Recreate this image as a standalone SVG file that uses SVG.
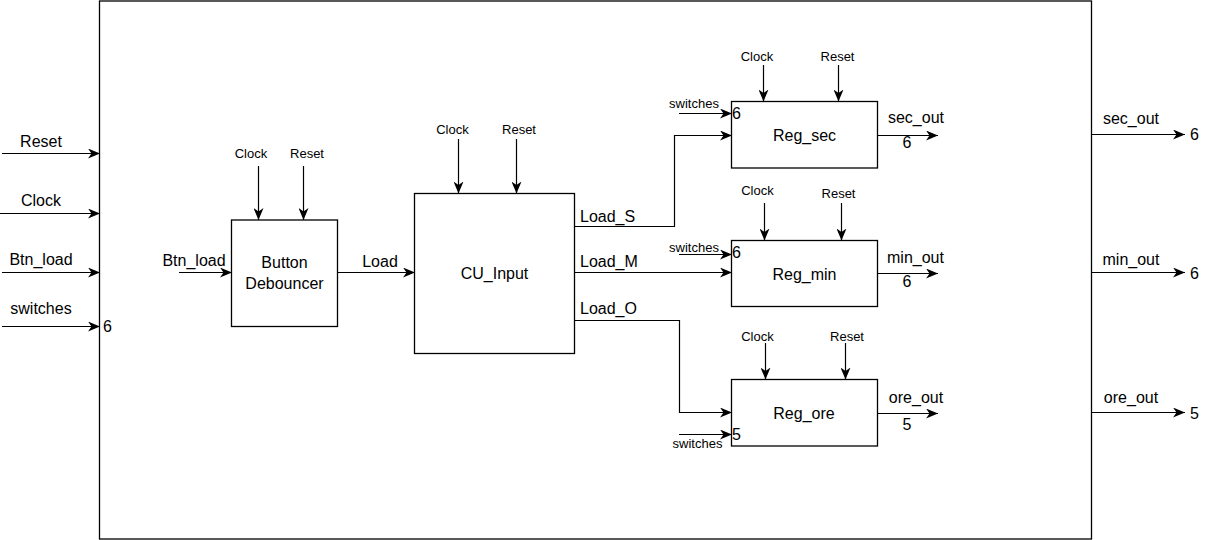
<svg xmlns="http://www.w3.org/2000/svg" width="1227" height="540" viewBox="0 0 1227 540">
<style>
.box{fill:#fff;stroke:#000;stroke-width:1.3}
.w{fill:none;stroke:#000;stroke-width:1.2}
text{font-family:"Liberation Sans",Arial,sans-serif;fill:#000}
.m{font-size:16px}
.s{font-size:13px}
.c{text-anchor:middle}
</style>
<defs>
<marker id="a" markerUnits="userSpaceOnUse" markerWidth="12" markerHeight="10" refX="12" refY="5" orient="auto" viewBox="0 0 12 10">
<path d="M0,0 L12,5 L0,10 L3.5,5 Z" fill="#000"/>
</marker>
</defs>
<rect id="top" class="box" x="99.5" y="1" width="992" height="538"/>
<g id="debouncer">
<rect class="box" x="231.5" y="220" width="106" height="106.5"/>
<text class="m c" x="284.5" y="268">Button</text>
<text class="m c" x="284.5" y="289">Debouncer</text>
</g>
<g id="cu_input">
<rect class="box" x="414.5" y="193.5" width="160" height="160"/>
<text class="m c" x="494.5" y="278.5">CU_Input</text>
</g>
<g id="reg_sec">
<rect class="box" x="731.5" y="101.5" width="146" height="66.5"/>
<text class="m c" x="804.5" y="141">Reg_sec</text>
</g>
<g id="reg_min">
<rect class="box" x="731.5" y="240.5" width="146" height="66"/>
<text class="m c" x="804.5" y="279.5">Reg_min</text>
</g>
<g id="reg_ore">
<rect class="box" x="731.5" y="379.5" width="146" height="66.5"/>
<text class="m c" x="804" y="418.5">Reg_ore</text>
</g>
<g id="connectors">
<path class="w" d="M2,153.5 H100" marker-end="url(#a)"/>
<path class="w" d="M0,213.5 H100" marker-end="url(#a)"/>
<path class="w" d="M2,272.5 H100" marker-end="url(#a)"/>
<path class="w" d="M2,326.5 H100" marker-end="url(#a)"/>
<path class="w" d="M179,272.5 H232" marker-end="url(#a)"/>
<path class="w" d="M258.5,166 V220" marker-end="url(#a)"/>
<path class="w" d="M303.5,166 V220" marker-end="url(#a)"/>
<path class="w" d="M337,272.5 H415" marker-end="url(#a)"/>
<path class="w" d="M458.5,139 V193.5" marker-end="url(#a)"/>
<path class="w" d="M516.5,139 V193.5" marker-end="url(#a)"/>
<path class="w" d="M574,226.5 H674.5 V135.5 H732" marker-end="url(#a)"/>
<path class="w" d="M574,272.5 H732" marker-end="url(#a)"/>
<path class="w" d="M574,320.5 H679.5 V412.5 H732" marker-end="url(#a)"/>
<path class="w" d="M763.5,65 V101.5" marker-end="url(#a)"/>
<path class="w" d="M838.5,65 V101.5" marker-end="url(#a)"/>
<path class="w" d="M679,113.5 H732" marker-end="url(#a)"/>
<path class="w" d="M878,135.5 H938" marker-end="url(#a)"/>
<path class="w" d="M764.5,203 V240.5" marker-end="url(#a)"/>
<path class="w" d="M841.5,203 V240.5" marker-end="url(#a)"/>
<path class="w" d="M679,254.5 H732" marker-end="url(#a)"/>
<path class="w" d="M878,273.5 H938" marker-end="url(#a)"/>
<path class="w" d="M765.5,343 V379.5" marker-end="url(#a)"/>
<path class="w" d="M845.5,343 V379.5" marker-end="url(#a)"/>
<path class="w" d="M679,434.5 H732" marker-end="url(#a)"/>
<path class="w" d="M878,413.5 H938" marker-end="url(#a)"/>
<path class="w" d="M1091,134.5 H1185" marker-end="url(#a)"/>
<path class="w" d="M1091,272.5 H1185" marker-end="url(#a)"/>
<path class="w" d="M1091,412.5 H1185" marker-end="url(#a)"/>
</g>
<g id="labels">
<text class="m c" x="41" y="147">Reset</text>
<text class="m c" x="41" y="206">Clock</text>
<text class="m c" x="41" y="265">Btn_load</text>
<text class="m c" x="41" y="314">switches</text>
<text class="m" x="103" y="332">6</text>
<text class="m c" x="194" y="266">Btn_load</text>
<text class="s c" x="251" y="158">Clock</text>
<text class="s c" x="307" y="158">Reset</text>
<text class="m c" x="380" y="267">Load</text>
<text class="s c" x="452.5" y="134">Clock</text>
<text class="s c" x="519" y="134">Reset</text>
<text class="m" x="580" y="222">Load_S</text>
<text class="m" x="580" y="267">Load_M</text>
<text class="m" x="580" y="314">Load_O</text>
<text class="s c" x="757" y="61">Clock</text>
<text class="s c" x="837.5" y="61">Reset</text>
<text class="s c" x="694" y="107.5">switches</text>
<text class="m" x="732" y="119">6</text>
<text class="m c" x="916" y="123">sec_out</text>
<text class="m c" x="907" y="148">6</text>
<text class="s c" x="757.5" y="195">Clock</text>
<text class="s c" x="838.5" y="197.5">Reset</text>
<text class="s c" x="694" y="251.5">switches</text>
<text class="m" x="732" y="257.5">6</text>
<text class="m c" x="915.5" y="263">min_out</text>
<text class="m c" x="907" y="287">6</text>
<text class="s c" x="757.5" y="341">Clock</text>
<text class="s c" x="847" y="341">Reset</text>
<text class="s c" x="697.5" y="447.5">switches</text>
<text class="m" x="732" y="440">5</text>
<text class="m c" x="916" y="403">ore_out</text>
<text class="m c" x="907" y="429.5">5</text>
<text class="m c" x="1131" y="124">sec_out</text>
<text class="m" x="1190" y="140">6</text>
<text class="m c" x="1131" y="265">min_out</text>
<text class="m" x="1190" y="278.5">6</text>
<text class="m c" x="1131" y="403">ore_out</text>
<text class="m" x="1190" y="418.5">5</text>
</g>
</svg>
